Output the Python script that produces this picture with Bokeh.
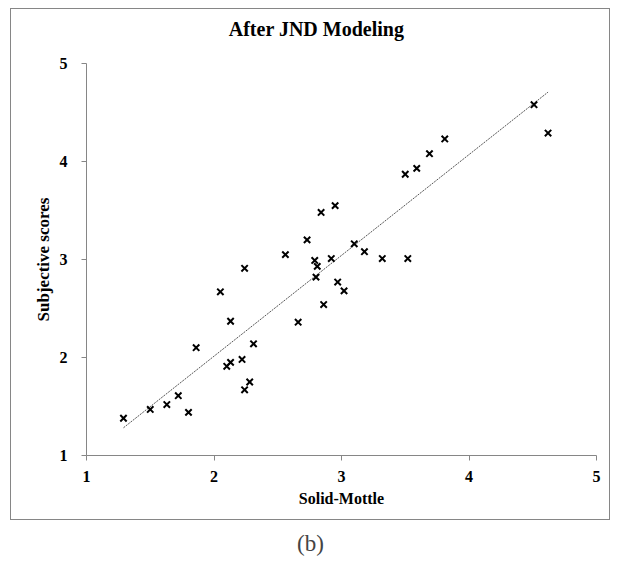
import numpy as np
from bokeh.plotting import figure
from bokeh.layouts import column
from bokeh.models import Label, FixedTicker, Range1d, LinearAxis
from bokeh.embed import file_html
from bokeh.resources import INLINE

# data
solid_mottle = [1.29, 1.50, 1.63, 1.72, 1.80, 1.86, 2.05, 2.10, 2.13, 2.13, 2.22, 2.24, 2.24,
                2.28, 2.31, 2.56, 2.66, 2.73, 2.79, 2.81, 2.80, 2.84, 2.86, 2.92, 2.95, 2.97,
                3.02, 3.10, 3.18, 3.32, 3.52, 3.50, 3.59, 3.69, 3.81, 4.51, 4.62]
subjective = [1.38, 1.47, 1.52, 1.61, 1.44, 2.10, 2.67, 1.91, 1.95, 2.37, 1.98, 1.67, 2.91,
              1.75, 2.14, 3.05, 2.36, 3.20, 2.99, 2.93, 2.82, 3.48, 2.54, 3.01, 3.55, 2.77,
              2.68, 3.16, 3.08, 3.01, 3.01, 3.87, 3.93, 4.08, 4.23, 4.58, 4.29]
ticks = [1, 2, 3, 4, 5]
title_text = "After JND Modeling"

FONT = "Liberation Serif"
W, H = 600, 512
# frame position inside the bordered figure
FL, FR, FT, FB = 75, 585, 54, 446
TITLE_CX = 305  # title centre, pixels from the figure's left edge

p = figure(width=W, height=H, output_backend="svg", toolbar_location=None,
           x_range=Range1d(1, 5), y_range=Range1d(1, 5),
           min_border_left=FL, min_border_right=W - FR, min_border_top=FT,
           min_border_bottom=H - FB)
p.margin = (8, 0, 0, 10)
p.styles = {"border": "1px solid #868686"}
p.grid.visible = False
p.outline_line_color = None
p.background_fill_color = "white"
p.border_fill_color = "white"

for ax in (p.xaxis[0], p.yaxis[0]):
    ax.ticker = FixedTicker(ticks=ticks)
    ax.axis_line_color = "#868686"
    ax.major_tick_line_color = "#868686"
    ax.major_tick_out = 5
    ax.major_tick_in = 0
    ax.minor_tick_line_color = None
    ax.major_label_text_font = FONT
    ax.major_label_text_font_style = "bold"
    ax.major_label_text_font_size = "16px"
    ax.major_label_text_color = "black"
    ax.axis_label_text_font = FONT
    ax.axis_label_text_font_style = "bold"
    ax.axis_label_text_color = "black"
p.xaxis[0].axis_label = "Solid-Mottle"
p.xaxis[0].axis_label_text_font_size = "16px"
p.xaxis[0].major_label_standoff = 10
p.xaxis[0].axis_label_standoff = 5
p.yaxis[0].axis_label = "Subjective scores"
p.yaxis[0].axis_label_text_font_size = "17px"
p.yaxis[0].major_label_standoff = 14
p.yaxis[0].axis_label_standoff = 4

# chart title drawn as the single label of an otherwise invisible top axis
title_x = round(1 + (TITLE_CX - FL) * 4 / (FR - FL), 3)
top = LinearAxis(ticker=FixedTicker(ticks=[title_x]),
                 major_label_overrides={title_x: title_text},
                 axis_line_color=None, major_tick_line_color=None,
                 minor_tick_line_color=None, major_tick_out=0, major_tick_in=0,
                 major_label_standoff=24, major_label_text_font=FONT,
                 major_label_text_font_style="bold", major_label_text_font_size="20px",
                 major_label_text_color="black")
p.add_layout(top, "above")

# linear trend line (least squares) over the data range
slope, intercept = np.polyfit(solid_mottle, subjective, 1)
xs = [min(solid_mottle), max(solid_mottle)]
ys = [slope * v + intercept for v in xs]
p.line(xs, ys, line_color="#555555", line_width=1, line_dash="2 1")

p.scatter(solid_mottle, subjective, marker="x", size=9, line_color="black", line_width=2)

# caption below the bordered chart
cap = figure(width=W, height=34, output_backend="svg", toolbar_location=None,
             x_range=Range1d(0, 1), y_range=Range1d(0, 1),
             min_border=0, min_border_left=0, min_border_right=0,
             min_border_top=0, min_border_bottom=0,
             x_axis_type=None, y_axis_type=None, sizing_mode="fixed")
cap.margin = (6, 0, 0, 10)
cap.grid.visible = False
cap.outline_line_color = None
cap.add_layout(Label(x=0.5, y=0.5, x_offset=-30, text="(b)", text_font=FONT,
                     text_font_size="23px", text_align="center", text_baseline="middle"))

layout = column(p, cap, spacing=0, sizing_mode="fixed")
open("out.html", "w").write(file_html(layout, INLINE))
